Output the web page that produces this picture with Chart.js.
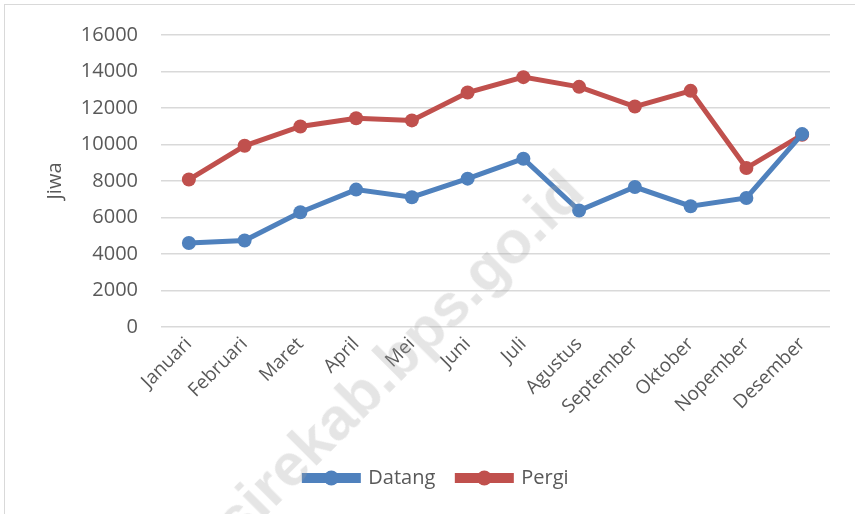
<!DOCTYPE html>
<html>
<head>
<meta charset="utf-8">
<script src="https://cdn.jsdelivr.net/npm/chart.js@4/dist/chart.umd.min.js"></script>
<style>
  html,body{margin:0;padding:0;background:#fff;overflow:hidden;}
  #wrap{position:relative;width:855px;height:514px;overflow:hidden;}
  #frame{position:absolute;left:4px;top:4px;width:900px;height:600px;border:1px solid #d9d9d9;box-sizing:border-box;}
  canvas{position:absolute;left:0;top:0;}
  #wm{position:absolute;left:224px;top:500px;height:60px;line-height:60px;font-family:"Liberation Sans",Arial,sans-serif;font-weight:bold;font-size:60px;color:rgba(160,160,160,0.28);transform:rotate(-45deg);transform-origin:left center;white-space:nowrap;pointer-events:none;}
</style>
</head>
<body>
<div id="wrap">
  <div id="frame"></div>
  <canvas id="c" width="855" height="514"></canvas>
  <div id="wm">sirekab.bps.go.id</div>
</div>
<script>
const categories = ["Januari","Februari","Maret","April","Mei","Juni","Juli","Agustus","September","Oktober","Nopember","Desember"];
const datang = [4600, 4740, 6290, 7530, 7110, 8130, 9220, 6380, 7670, 6620, 7070, 10570];
const pergi  = [8080, 9930, 10990, 11440, 11320, 12850, 13690, 13160, 12080, 12940, 8710, 10530];
const yTicks = [0, 2000, 4000, 6000, 8000, 10000, 12000, 14000, 16000];

const FONT = '"Open Sans", sans-serif';
const TXT = '#595959';

const legendMarker = {
  id: 'legendMarker',
  afterDraw(chart) {
    const lg = chart.legend;
    if (!lg || !lg.legendHitBoxes) return;
    const ctx = chart.ctx;
    lg.legendHitBoxes.forEach((hb, i) => {
      const ds = chart.data.datasets[i];
      const bw = lg.options.labels.boxWidth;
      const cx = hb.left + bw / 2;
      const cy = hb.top + hb.height / 2;
      ctx.save();
      ctx.fillStyle = ds.borderColor;
      ctx.beginPath();
      ctx.arc(cx, cy, 7.5, 0, Math.PI * 2);
      ctx.fill();
      ctx.restore();
    });
  }
};

new Chart(document.getElementById('c'), {
  type: 'line',
  data: {
    labels: categories,
    datasets: [
      { label: 'Datang', data: datang, borderColor: '#4f81bd', backgroundColor: '#4f81bd',
        borderWidth: 5, pointRadius: 7, pointBackgroundColor: '#4f81bd', pointBorderWidth: 0, tension: 0 },
      { label: 'Pergi', data: pergi, borderColor: '#c0504d', backgroundColor: '#c0504d',
        borderWidth: 5, pointRadius: 7, pointBackgroundColor: '#c0504d', pointBorderWidth: 0, tension: 0 }
    ]
  },
  options: {
    responsive: false,
    animation: false,
    devicePixelRatio: 1,
    layout: { padding: { left: 43, right: 25, top: 22, bottom: 16 } },
    plugins: {
      tooltip: { enabled: false },
      legend: {
        position: 'bottom',
        labels: {
          color: TXT,
          font: { family: FONT, size: 20 },
          boxWidth: 54,
          boxHeight: 5,
          padding: 22
        }
      }
    },
    scales: {
      x: {
        offset: true,
        grid: { display: false, drawTicks: false },
        border: { display: false },
        ticks: { color: TXT, font: { family: FONT, size: 19 }, maxRotation: 45, minRotation: 45, padding: 6, autoSkip: false },
        afterFit(s) { s.height = 119; }
      },
      y: {
        min: 0, max: 16000,
        afterBuildTicks(s) { s.ticks = yTicks.map(v => ({ value: v })); },
        grid: { color: '#d9d9d9', lineWidth: 1.5, drawTicks: false },
        border: { display: false },
        ticks: { color: TXT, font: { family: FONT, size: 20 }, padding: 23, callback: v => String(v) },
        title: { display: true, text: 'Jiwa', color: TXT, font: { family: FONT, size: 20 }, padding: 0 },
        afterFit(s) { s.width = 118; }
      }
    }
  },
  plugins: [legendMarker]
});
</script>
</body>
</html>
